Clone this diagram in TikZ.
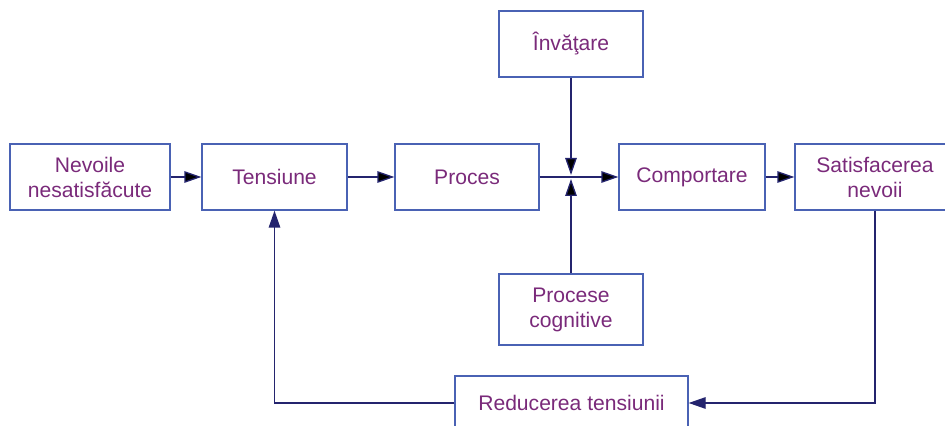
\documentclass[tikz,border=0pt]{standalone}
\usepackage{fontspec}
\setmainfont{Liberation Sans}
\usetikzlibrary{arrows.meta, positioning}

\definecolor{boxblue}{HTML}{4A62B4}
\definecolor{arrownavy}{HTML}{24246E}
\definecolor{textpurple}{HTML}{7A2A7A}

\begin{document}
\begin{tikzpicture}[> = {Triangle[length=3.4mm, width=2.3mm]}, % arrow head style
                line width = 0.75pt, % line style
                link/.style = {draw = arrownavy, ->} % connector style
            ]

            \tikzstyle{box}=[draw = boxblue, rectangle, align = center,
            text = textpurple, inner sep = 0pt, minimum height = 13.2mm,
            font = \fontsize{12}{14.2}\selectfont]

            \useasboundingbox (0,0) rectangle (18.9,8.52);

            \node[box, minimum width = 32mm] (nev) at (1.8,4.98) {Nevoile\\nesatisfăcute};
            \node[box, minimum width = 29mm] (tens) at (5.49,4.98) {Tensiune};
            \node[box, minimum width = 28.8mm] (proc) at (9.34,4.98) {Proces};
            \node[box, minimum width = 29.2mm] (comp) at (13.84,4.98) {Comportare};
            \node[box, minimum width = 32mm] (sat) at (17.5,4.98) {Satisfacerea\\nevoii};
            \node[box, minimum width = 28.8mm] (inv) at (11.42,7.64) {Învăţare};
            \node[box, minimum width = 28.8mm, minimum height = 14.2mm] (cogn) at (11.42,2.33) {Procese\\cognitive};
            \node[box, minimum width = 46.6mm, minimum height = 10.8mm] (red) at (11.43,0.46) {Reducerea tensiunii};

            \coordinate (junc) at (11.42,4.98);

            \path[link] (nev) edge (tens); \path[link] (tens) edge (proc);
            \path[link] (proc) edge (comp); \path[link] (comp) edge (sat);
            \path[link, shorten > = 0.4mm] (inv) edge (junc);
            \path[link, shorten > = 0.4mm] (cogn) edge (junc);
            \draw[link] (sat.south) |- (red.east);
            \draw[link] (red.west) -| (tens.south);
        \end{tikzpicture}
\end{document}
